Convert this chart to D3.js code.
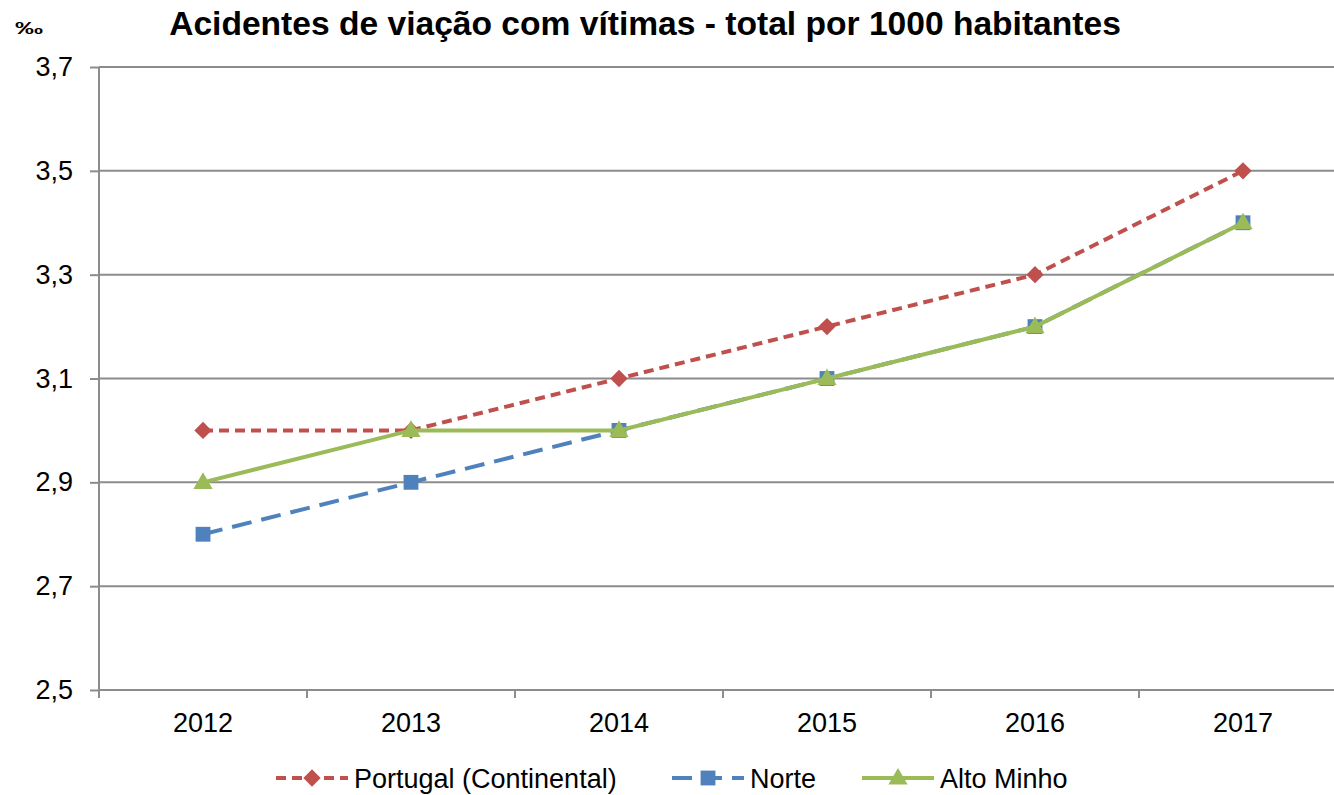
<!DOCTYPE html>
<html lang="pt">
<head>
<meta charset="UTF-8">
<title>Acidentes de viação com vítimas</title>
<script src="https://d3js.org/d3.v7.min.js"></script>
<style>
  body { margin: 0; background: #fff; }
  svg { display: block; font-family: "Liberation Sans", Arial, sans-serif; }
  .grid line { stroke: #8c8c8c; stroke-width: 2px; }
  .axis path, .axis line { stroke: #8c8c8c; stroke-width: 2px; }
  .axis text { font-size: 27px; fill: #000; }
  .legend text { font-size: 27px; fill: #000; }
</style>
</head>
<body>
<div id="chart"></div>
<script>
const years = ["2012", "2013", "2014", "2015", "2016", "2017"];
const portugal = [3.0, 3.0, 3.1, 3.2, 3.3, 3.5];
const norte = [2.8, 2.9, 3.0, 3.1, 3.2, 3.4];
const altoMinho = [2.9, 3.0, 3.0, 3.1, 3.2, 3.4];
const yTicks = [2.5, 2.7, 2.9, 3.1, 3.3, 3.5, 3.7];

const series = [
  { name: "Portugal (Continental)", values: portugal, color: "#C0504D", dash: "10,6", marker: "diamond" },
  { name: "Norte", values: norte, color: "#4F81BD", dash: "20,10", marker: "square" },
  { name: "Alto Minho", values: altoMinho, color: "#9BBB59", dash: null, marker: "triangle" }
];

const W = 1334, H = 795;
const plotLeft = 99, plotTop = 67, plotBottom = 690;
const step = 208;

const svg = d3.select("#chart").append("svg").attr("width", W).attr("height", H);

const x = d3.scaleBand().domain(years).range([plotLeft, plotLeft + step * years.length]);
const y = d3.scaleLinear().domain([2.5, 3.7]).range([plotBottom, plotTop]);

// gridlines
svg.append("g").attr("class", "grid")
  .selectAll("line").data(yTicks.slice(1)).join("line")
  .attr("x1", plotLeft).attr("x2", plotLeft + step * years.length)
  .attr("y1", d => y(d)).attr("y2", d => y(d));

// y axis
const yAxis = svg.append("g").attr("class", "axis")
  .attr("transform", `translate(${plotLeft},0)`)
  .call(d3.axisLeft(y).tickValues(yTicks).tickSize(9).tickPadding(17)
    .tickFormat(d => d3.format(".1f")(d).replace(".", ",")));
yAxis.select(".domain").attr("d", `M0,${plotTop}V${plotBottom + 8}`);

// x axis with ticks between categories
const xAxis = svg.append("g").attr("class", "axis")
  .attr("transform", `translate(0,${plotBottom})`);
xAxis.append("line").attr("x1", plotLeft).attr("x2", plotLeft + step * years.length).attr("y1", 0).attr("y2", 0);
xAxis.selectAll(".tk").data(years).join("line").attr("class", "tk")
  .attr("x1", d => x(d) + x.bandwidth()).attr("x2", d => x(d) + x.bandwidth())
  .attr("y1", 0).attr("y2", 8);
xAxis.selectAll("text").data(years).join("text")
  .attr("x", d => x(d) + x.bandwidth() / 2).attr("y", 42)
  .attr("text-anchor", "middle").text(d => d);

// title
svg.append("text").attr("x", 645).attr("y", 35).attr("text-anchor", "middle")
  .style("font-size", "33.6px").style("font-weight", "bold")
  .text("Acidentes de viação com vítimas - total por 1000 habitantes");
svg.append("text").attr("x", 15).attr("y", 34)
  .attr("textLength", 28).attr("lengthAdjust", "spacingAndGlyphs")
  .style("font-size", "17px").style("font-weight", "bold").text("‰");

function markerPath(type) {
  if (type === "diamond") return d3.symbol(d3.symbolSquare, 150)();
  if (type === "square") return d3.symbol(d3.symbolSquare, 220)();
  return d3.symbol(d3.symbolTriangle, 160)();
}
function markerTransform(type, cx, cy) {
  if (type === "diamond") return `translate(${cx},${cy}) rotate(45)`;
  if (type === "triangle") return `translate(${cx},${cy + 1})`;
  return `translate(${cx},${cy})`;
}

const line = d3.line().x((d, i) => x(years[i]) + x.bandwidth() / 2).y(d => y(d));

series.forEach(s => {
  svg.append("path").datum(s.values)
    .attr("fill", "none").attr("stroke", s.color).attr("stroke-width", 4)
    .attr("stroke-dasharray", s.dash).attr("d", line);
  svg.append("g").selectAll("path").data(s.values).join("path")
    .attr("transform", (d, i) => markerTransform(s.marker, x(years[i]) + x.bandwidth() / 2, y(d)))
    .attr("d", markerPath(s.marker)).attr("fill", s.color);
});

// legend
const legendItems = [
  { s: series[0], x0: 276 },
  { s: series[1], x0: 672 },
  { s: series[2], x0: 862 }
];
const lg = svg.append("g").attr("class", "legend");
legendItems.forEach(it => {
  const ly = 778;
  lg.append("line").attr("x1", it.x0).attr("x2", it.x0 + 72).attr("y1", ly).attr("y2", ly)
    .attr("stroke", it.s.color).attr("stroke-width", 4).attr("stroke-dasharray", it.s.dash);
  lg.append("path").attr("transform", markerTransform(it.s.marker, it.x0 + 36, ly))
    .attr("d", markerPath(it.s.marker)).attr("fill", it.s.color);
  lg.append("text").attr("x", it.x0 + 78).attr("y", ly + 10).text(it.s.name);
});
</script>
</body>
</html>
